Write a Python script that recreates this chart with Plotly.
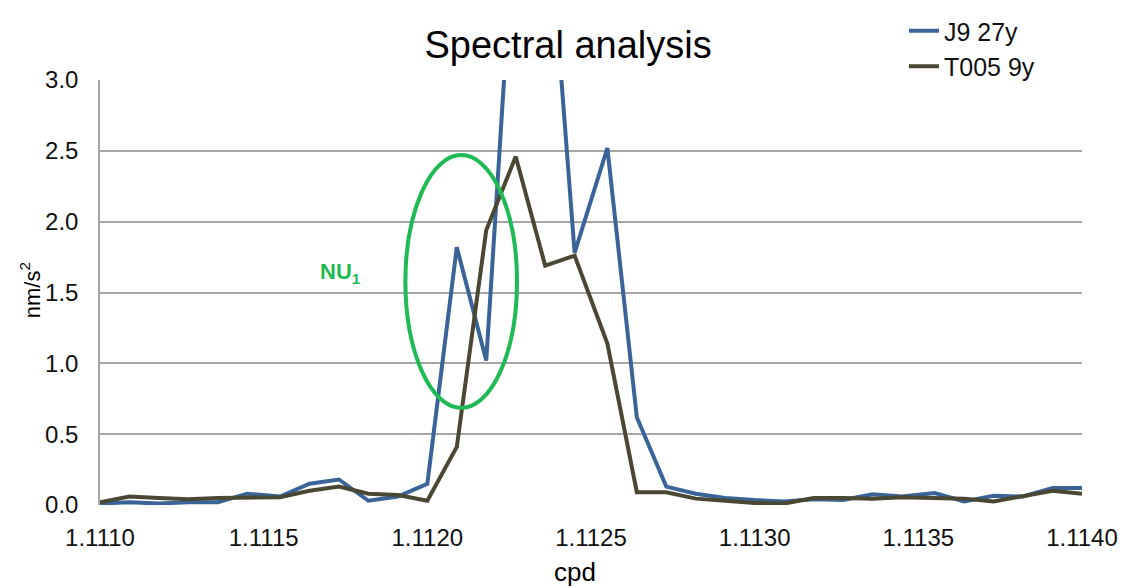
import plotly.graph_objects as go

# ---- data ----
cpd = [1.11100, 1.11109, 1.11118, 1.11127, 1.11136, 1.11145, 1.11155, 1.11164,
       1.11173, 1.11182, 1.11191, 1.11200, 1.11209, 1.11218, 1.11227, 1.11236,
       1.11245, 1.11255, 1.11264, 1.11273, 1.11282, 1.11291, 1.11300, 1.11309,
       1.11318, 1.11327, 1.11336, 1.11345, 1.11355, 1.11364, 1.11373, 1.11382,
       1.11391, 1.11400]

j9_27y = [0.01, 0.02, 0.01, 0.02, 0.02, 0.08, 0.06, 0.15, 0.18, 0.03, 0.06, 0.15,
          1.82, 1.02, 4.30, 4.50, 1.78, 2.52, 0.62, 0.13, 0.08, 0.05, 0.035, 0.025,
          0.04, 0.035, 0.075, 0.06, 0.085, 0.025, 0.065, 0.06, 0.12, 0.12]

t005_9y = [0.02, 0.06, 0.05, 0.04, 0.05, 0.05, 0.055, 0.10, 0.13, 0.08, 0.07, 0.03,
           0.41, 1.94, 2.46, 1.69, 1.76, 1.14, 0.09, 0.09, 0.045, 0.03, 0.015, 0.01,
           0.05, 0.05, 0.045, 0.055, 0.05, 0.045, 0.025, 0.065, 0.10, 0.08]

x_ticks = [1.1110, 1.1115, 1.1120, 1.1125, 1.1130, 1.1135, 1.1140]
x_tick_labels = ["1.1110", "1.1115", "1.1120", "1.1125", "1.1130", "1.1135", "1.1140"]
y_ticks = [0.0, 0.5, 1.0, 1.5, 2.0, 2.5, 3.0]
y_tick_labels = ["0.0", "0.5", "1.0", "1.5", "2.0", "2.5", "3.0"]

# highlight ellipse (data coordinates) and label
ellipse_x = [1.111933, 1.112274]
ellipse_y = [0.685, 2.47]
label_pos = [1.111735, 1.64]

FONT = "Liberation Sans, Arial, sans-serif"
BLUE = "#3a6498"
DARK = "#4a4733"
GREEN = "#1fba55"
GRID = "#a6a6a6"

fig = go.Figure()
fig.add_trace(go.Scatter(x=cpd, y=j9_27y, mode="lines", name="J9 27y",
                         line=dict(color=BLUE, width=4)))
fig.add_trace(go.Scatter(x=cpd, y=t005_9y, mode="lines", name="T005 9y",
                         line=dict(color=DARK, width=4)))

fig.add_shape(type="circle", xref="x", yref="y",
              x0=ellipse_x[0], x1=ellipse_x[1], y0=ellipse_y[0], y1=ellipse_y[1],
              line=dict(color=GREEN, width=4), layer="above")

fig.add_annotation(x=label_pos[0], y=label_pos[1], xref="x", yref="y",
                   text="<b>NU<sub>1</sub></b>", showarrow=False,
                   font=dict(family=FONT, size=22, color=GREEN))

# axis titles
fig.add_annotation(x=0.4837, y=-0.158, xref="paper", yref="paper",
                   xanchor="center", yanchor="middle", showarrow=False,
                   text="cpd", font=dict(family=FONT, size=26, color="#000000"))
fig.add_annotation(x=-0.071, y=0.506, xref="paper", yref="paper",
                   xanchor="center", yanchor="middle", showarrow=False, textangle=-90,
                   text="nm/s<sup>2</sup>", font=dict(family=FONT, size=22, color="#000000"))

fig.update_layout(
    width=1127, height=587,
    paper_bgcolor="white", plot_bgcolor="white",
    margin=dict(l=92, r=53, t=72, b=90, autoexpand=False),
    font=dict(family=FONT, color="#111111"),
    title=dict(text="Spectral analysis", x=0.497, xanchor="center",
               y=0.937, yanchor="middle",
               font=dict(family=FONT, size=38, color="#000000")),
    showlegend=True,
    legend=dict(xref="container", yref="container", x=0.795, xanchor="left",
                y=1.0136, yanchor="top",
                font=dict(family=FONT, size=25, color="#111111"),
                bgcolor="rgba(0,0,0,0)", tracegroupgap=0, itemwidth=30),
)

fig.update_xaxes(range=[1.1110, 1.1140], tickvals=x_ticks, ticktext=x_tick_labels,
                 showgrid=False, zeroline=False, showline=False, automargin=False,
                 ticks="", ticklabelstandoff=16,
                 tickfont=dict(family=FONT, size=24, color="#111111"))
fig.update_yaxes(range=[0, 3.0], tickvals=y_ticks, ticktext=y_tick_labels,
                 showgrid=True, gridcolor=GRID, gridwidth=1.5, automargin=False,
                 zeroline=False, showline=True, linecolor=GRID, linewidth=1.5,
                 ticks="", ticklabelstandoff=15,
                 tickfont=dict(family=FONT, size=24, color="#111111"))

fig.write_html("out.html")
